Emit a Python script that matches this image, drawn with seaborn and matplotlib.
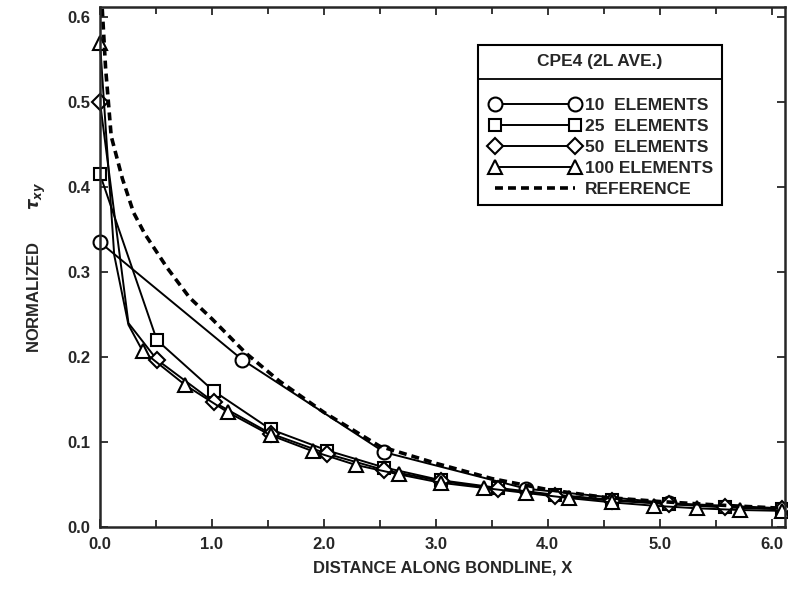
import numpy as np
import pandas as pd
import matplotlib
matplotlib.use("Agg")
import matplotlib.pyplot as plt
import seaborn as sns
from matplotlib.patches import Rectangle
from matplotlib.lines import Line2D

# ---- data ----
x10 = [0.0, 1.27, 2.54, 3.81, 5.08, 6.1]
y10 = [0.335, 0.197, 0.088, 0.045, 0.028, 0.022]

x25 = [0.0, 0.508, 1.016, 1.524, 2.032, 2.54, 3.048, 3.556, 4.064, 4.572, 5.08, 5.588, 6.096]
y25 = [0.415, 0.220, 0.160, 0.115, 0.090, 0.070, 0.055, 0.046, 0.038, 0.032, 0.027, 0.024, 0.021]

x50 = [0.0, 0.254, 0.508, 1.016, 1.524, 2.032, 2.54, 3.048, 3.556, 4.064, 4.572, 5.08, 5.588, 6.096]
y50 = [0.500, 0.240, 0.197, 0.147, 0.110, 0.086, 0.067, 0.054, 0.045, 0.037, 0.031, 0.027, 0.023, 0.021]

x100 = [0.0, 0.127, 0.254, 0.381, 0.762, 1.143, 1.524, 1.905, 2.286, 2.667, 3.048, 3.429,
        3.81, 4.191, 4.572, 4.953, 5.334, 5.715, 6.096]
y100 = [0.570, 0.320, 0.238, 0.207, 0.167, 0.135, 0.108, 0.089, 0.073, 0.062, 0.052, 0.046,
        0.040, 0.034, 0.029, 0.025, 0.022, 0.020, 0.019]

xref = [0.02, 0.05, 0.1, 0.2, 0.3, 0.4, 0.6, 0.8, 1.0, 1.3, 1.6, 2.0, 2.5, 3.0, 3.5, 4.0,
        4.5, 5.0, 5.5, 6.1]
yref = [0.61, 0.54, 0.46, 0.41, 0.37, 0.345, 0.305, 0.27, 0.245, 0.205, 0.172, 0.135,
        0.095, 0.075, 0.057, 0.044, 0.035, 0.030, 0.026, 0.022]

labels = ["10  ELEMENTS", "25  ELEMENTS", "50  ELEMENTS", "100 ELEMENTS", "REFERENCE"]
legend_title = "CPE4 (2L AVE.)"
xticks = [0.0, 1.0, 2.0, 3.0, 4.0, 5.0, 6.0]
yticks = [0.0, 0.1, 0.2, 0.3, 0.4, 0.5, 0.6]

sns.set_style("ticks")
plt.rcParams['font.family'] = ['Liberation Sans', 'DejaVu Sans']
plt.rcParams['font.weight'] = 'bold'
plt.rcParams['mathtext.fontset'] = 'dejavusans'

fig = plt.figure(figsize=(7.88, 5.90), dpi=100)
ax = fig.add_axes([100/788, 1 - 527/590, 685/788, 520/590])

mk = dict(color='black', lw=1.4, markersize=10, markerfacecolor='white',
          markeredgecolor='black', markeredgewidth=1.5)

sns.lineplot(x=x10, y=y10, marker='o', ax=ax, sort=False, label=labels[0],
             markevery=list(range(len(x10) - 1)), clip_on=False, **mk)
sns.lineplot(x=x25, y=y25, marker='s', ax=ax, sort=False, label=labels[1],
             clip_on=False, **dict(mk, markersize=9))
sns.lineplot(x=x50, y=y50, marker='D', ax=ax, sort=False, label=labels[2], clip_on=False,
             markevery=[0] + list(range(2, len(x50))), **dict(mk, markersize=8))
sns.lineplot(x=x100, y=y100, marker='^', ax=ax, sort=False, label=labels[3], clip_on=False,
             markevery=[0] + list(range(3, len(x100))), **dict(mk, markersize=10))
sns.lineplot(x=xref, y=yref, ax=ax, sort=False, label=labels[4], color='black',
             lw=2.6, dashes=(2.2, 1.4))

ax.set_xlim(0, 6.12)
ax.set_ylim(0, 0.612)
ax.set_xticks(xticks)
ax.set_xticklabels([f"{v:.1f}" for v in xticks])
ax.set_xticks(np.arange(0.5, 6.1, 1.0), minor=True)
ax.set_yticks(yticks)
ax.set_yticklabels([f"{v:.1f}" for v in yticks])
ax.tick_params(which='both', direction='in', top=True, right=True, width=1.3,
               labelsize=12, pad=7)
ax.tick_params(which='major', length=6)
ax.tick_params(which='minor', length=5)
for s in ax.spines.values():
    s.set_linewidth(1.8)
for t in ax.get_xticklabels() + ax.get_yticklabels():
    t.set_fontweight('bold')

ax.set_xlabel("DISTANCE ALONG BONDLINE, X", fontsize=12, fontweight='bold', labelpad=6)
ax.set_ylabel("NORMALIZED       $\\tau_{xy}$", fontsize=12, fontweight='bold', labelpad=14)

# legend
ax.get_legend().remove()
handles = [
    Line2D([0], [0], marker='o', **mk),
    Line2D([0], [0], marker='s', **dict(mk, markersize=9)),
    Line2D([0], [0], marker='D', **dict(mk, markersize=8)),
    Line2D([0], [0], marker='^', **mk),
    Line2D([0], [0], color='black', lw=2.6, dashes=(2.2, 1.4)),
]
leg = ax.legend(handles, labels, loc='upper left', bbox_to_anchor=(0.559, 0.838),
                frameon=False, numpoints=2, handlelength=5.2, handletextpad=0.3,
                labelspacing=0.33, borderaxespad=0,
                prop={'family': 'Liberation Sans', 'weight': 'bold', 'size': 12.5})
ax.add_patch(Rectangle((0.552, 0.619), 0.356, 0.308, transform=ax.transAxes,
                       fill=False, edgecolor='black', lw=1.5, zorder=5))
ax.plot([0.552, 0.908], [0.862, 0.862], transform=ax.transAxes, color='black', lw=1.3)
ax.text(0.73, 0.895, legend_title, transform=ax.transAxes, ha='center', va='center',
        fontsize=12.5, fontweight='bold')

fig.savefig("out.png", dpi=100)
